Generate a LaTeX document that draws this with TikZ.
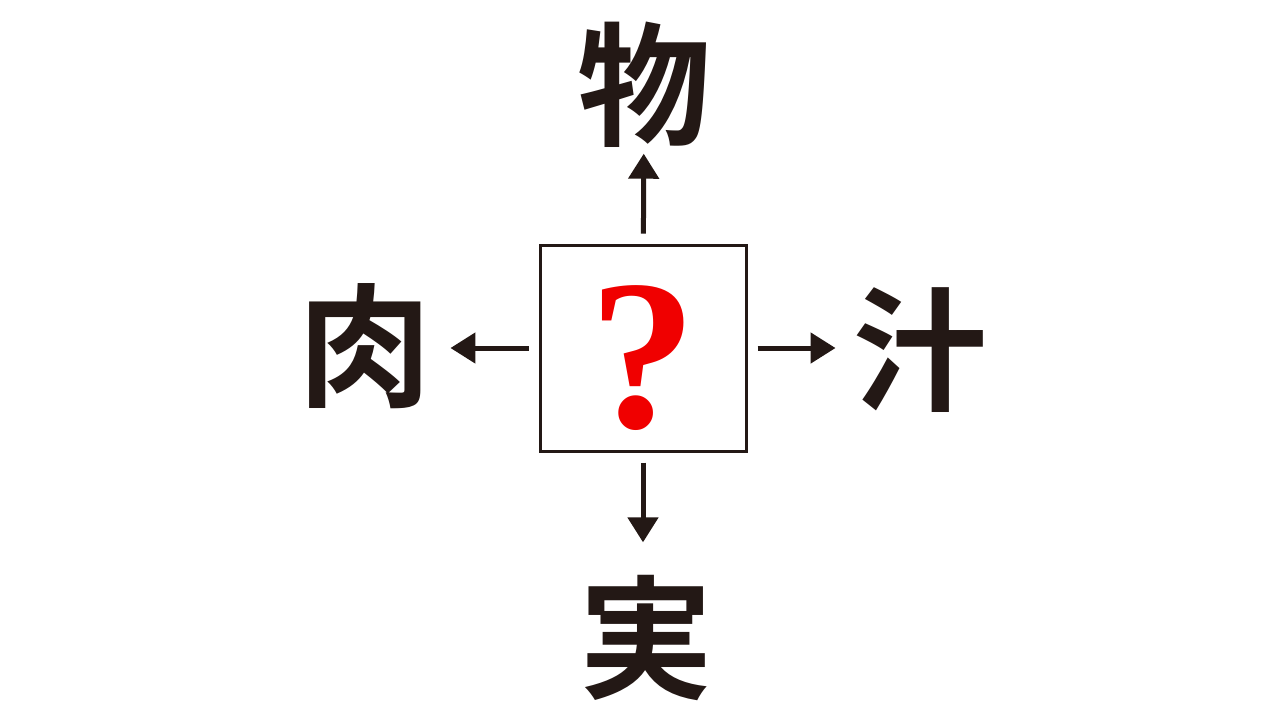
\documentclass[tikz,border=0pt]{standalone}
\usepackage{fontspec}
\usetikzlibrary{arrows.meta}
\newfontfamily\jpfont{Noto Sans CJK JP Bold}
\newfontfamily\qfont{Liberation Serif}
\definecolor{ink}{HTML}{231815}
\definecolor{qred}{HTML}{F00000}

\begin{document}
\begin{tikzpicture}[x=0.1mm, y=-0.1mm,
    kanji/.style={inner sep=0pt, minimum size=13mm, text=ink, font=\jpfont\fontsize{38}{38}\selectfont},
    arr/.style={draw=ink, line width=0.5mm, -{Triangle[width=3mm,length=2.5mm]}, shorten <=1mm}]
    \useasboundingbox[fill=white] (0,0) rectangle (1280,720);

    % Nodes
    % box in the middle, one character on each side
    \node[draw=ink, line width=0.3mm, minimum size=20.6mm, inner sep=0pt, text height=45pt, text depth=0pt, text=qred, font=\qfont\bfseries\fontsize{61}{61}\selectfont] at (643, 348) (q) {?};
    \node[kanji] at (644, 85) (mono) {物};
    \node[kanji] at (646, 638) (mi) {実};
    \node[kanji] at (365, 346) (niku) {肉};
    \node[kanji] at (920, 350) (shiru) {汁};

    \draw[arr, shorten >=0.3mm] (q) -- (mono);
    \draw[arr, shorten >=3mm] (q) -- (q |- mi.north);
    \draw[arr, shorten >=1.8mm] (q) -- (q -| niku.east);
    \draw[arr, shorten >=1.7mm] (q) -- (q -| shiru.west);

\end{tikzpicture}
\end{document}
